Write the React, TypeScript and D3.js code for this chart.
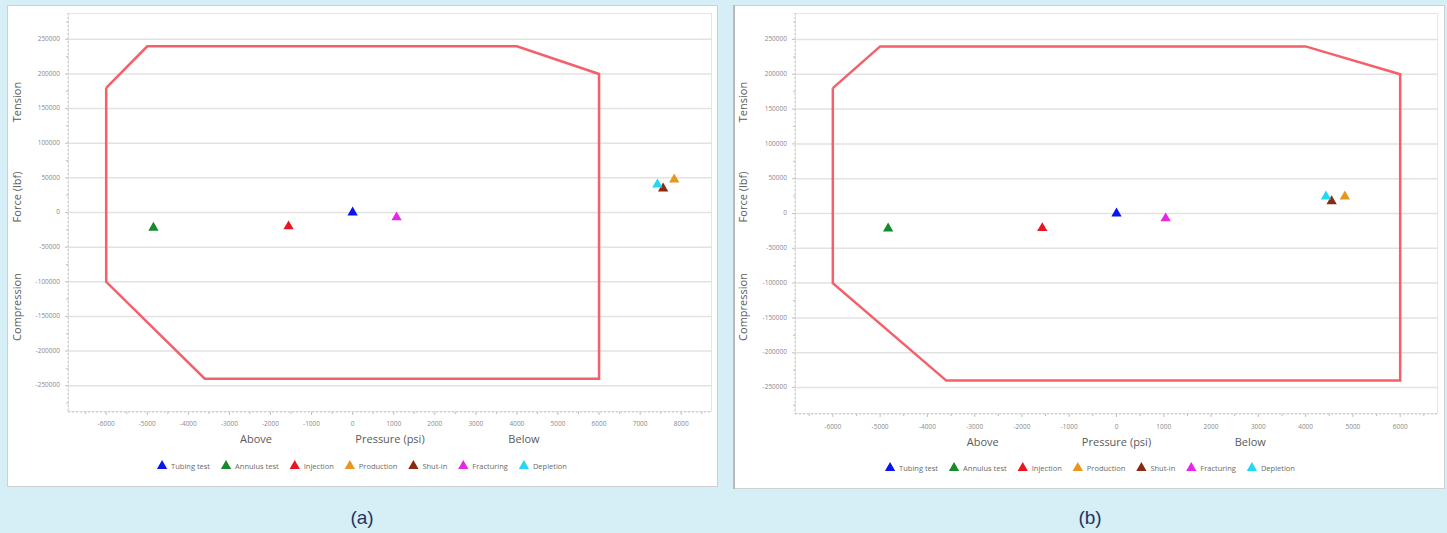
import React, { useEffect, useRef } from "react";
import * as d3 from "d3";

// ---------- data ----------
const categories = ["Tubing test", "Annulus test", "Injection", "Production", "Shut-in", "Fracturing", "Depletion"];
const seriesColors = ["#0a14f0", "#178a2c", "#ec1420", "#e8961e", "#8a2a12", "#e628e6", "#22d8f2"];

const pressureA = [0, -4850, -1560, 7830, 7560, 1070, 7420];
const forceA = [0, -22000, -20000, 47700, 34700, -7000, 40500];

const pressureB = [0, -4830, -1570, 4830, 4550, 1040, 4430];
const forceB = [0, -21500, -21000, 24400, 17700, -7000, 24400];

const envelopePressure = [-6000, -5000, 4000, 6000, 6000, -3600, -6000, -6000];
const envelopeForce = [180000, 240000, 240000, 200000, -240000, -240000, -100000, 180000];

const xTicksA = [-6000, -5000, -4000, -3000, -2000, -1000, 0, 1000, 2000, 3000, 4000, 5000, 6000, 7000, 8000];
const xTicksB = [-6000, -5000, -4000, -3000, -2000, -1000, 0, 1000, 2000, 3000, 4000, 5000, 6000];
const yTicks = [-250000, -200000, -150000, -100000, -50000, 0, 50000, 100000, 150000, 200000, 250000];

const panelLabels = ["(a)", "(b)"];

type Panel = {
  label: string;
  frame: [number, number, number, number]; // x0,y0,x1,y1
  plot: [number, number, number, number];
  xDomain: [number, number];
  yDomain: [number, number];
  xTicks: number[];
  px: number[];
  fy: number[];
  legendCx: number;
  legendY: number;
  titleY: number;
  tickLabelY: number;
};

const panels: Panel[] = [
  {
    label: panelLabels[0],
    frame: [7, 5, 718, 487],
    plot: [68, 13, 712, 412],
    xDomain: [-6930, 8750],
    yDomain: [-288000, 288000],
    xTicks: xTicksA,
    px: pressureA,
    fy: forceA,
    legendCx: 362,
    legendY: 466,
    titleY: 440,
    tickLabelY: 424,
  },
  {
    label: panelLabels[1],
    frame: [733, 5, 1445, 489],
    plot: [795, 13, 1438, 414],
    xDomain: [-6800, 6800],
    yDomain: [-288000, 288000],
    xTicks: xTicksB,
    px: pressureB,
    fy: forceB,
    legendCx: 1090,
    legendY: 468,
    titleY: 443,
    tickLabelY: 427,
  },
];

const FONT = "'Open Sans', 'Liberation Sans', sans-serif";

export default function App() {
  const ref = useRef<SVGSVGElement | null>(null);

  useEffect(() => {
    const svg = d3.select(ref.current);
    svg.selectAll("*").remove();

    svg.append("rect").attr("x", 0).attr("y", 0).attr("width", 1447).attr("height", 533).attr("fill", "#d6eef6");

    panels.forEach((p, pi) => {
      const [fx0, fy0, fx1, fy1] = p.frame;
      const [l, t, r, b] = p.plot;
      const g = svg.append("g");

      g.append("rect")
        .attr("x", fx0 + 0.5).attr("y", fy0 + 0.5)
        .attr("width", fx1 - fx0 - 1).attr("height", fy1 - fy0 - 1)
        .attr("fill", "#ffffff").attr("stroke", "#d0d0d0").attr("stroke-width", 1);
      if (pi === 1) {
        g.append("line").attr("x1", fx0 + 1).attr("x2", fx0 + 1).attr("y1", fy0).attr("y2", fy1)
          .attr("stroke", "#b8b8b8").attr("stroke-width", 2);
      }

      const x = d3.scaleLinear().domain(p.xDomain).range([l, r]);
      const y = d3.scaleLinear().domain(p.yDomain).range([b, t]);

      // plot frame
      g.append("rect").attr("x", l + 0.5).attr("y", t + 0.5).attr("width", r - l - 1).attr("height", b - t - 1)
        .attr("fill", "none").attr("stroke", "#e6e6e6").attr("stroke-width", 1);

      // gridlines
      g.selectAll(".grid").data(yTicks).enter().append("line")
        .attr("x1", l).attr("x2", r)
        .attr("y1", (d) => y(d)).attr("y2", (d) => y(d))
        .attr("stroke", "#e2e2e2").attr("stroke-width", 1.5);

      // axis lines (dotted)
      g.append("line").attr("x1", l).attr("x2", r).attr("y1", b).attr("y2", b)
        .attr("stroke", "#c8c8c8").attr("stroke-width", 1).attr("stroke-dasharray", "2,2");
      g.append("line").attr("x1", l).attr("x2", l).attr("y1", t).attr("y2", b)
        .attr("stroke", "#c8c8c8").attr("stroke-width", 1).attr("stroke-dasharray", "2,2");

      // x ticks
      const minorX = d3.range(Math.ceil(p.xDomain[0] / 500) * 500, p.xDomain[1], 500);
      g.selectAll(".mx").data(minorX).enter().append("line")
        .attr("x1", (d) => x(d)).attr("x2", (d) => x(d))
        .attr("y1", b).attr("y2", (d) => (d % 1000 === 0 ? b + 3 : b + 2))
        .attr("stroke", "#c0c0c0").attr("stroke-width", 1);
      g.selectAll(".xl").data(p.xTicks).enter().append("text")
        .attr("x", (d) => x(d)).attr("y", p.tickLabelY)
        .attr("text-anchor", "middle").attr("dominant-baseline", "middle")
        .attr("font-family", FONT).attr("font-size", 6.5).attr("fill", "#8a8a8a")
        .text((d) => String(d));

      // y ticks
      const minorY = d3.range(-275000, 288000, 25000);
      g.selectAll(".my").data(minorY).enter().append("line")
        .attr("x1", (d) => (d % 50000 === 0 ? l - 3 : l - 2)).attr("x2", l)
        .attr("y1", (d) => y(d)).attr("y2", (d) => y(d))
        .attr("stroke", "#c0c0c0").attr("stroke-width", 1);
      g.selectAll(".yl").data(yTicks).enter().append("text")
        .attr("x", l - 8).attr("y", (d) => y(d))
        .attr("text-anchor", "end").attr("dominant-baseline", "middle")
        .attr("font-family", FONT).attr("font-size", 6.5).attr("fill", "#8a8a8a")
        .text((d) => String(d));

      // envelope
      const line = d3.line<number>()
        .x((_, i) => x(envelopePressure[i]))
        .y((_, i) => y(envelopeForce[i]));
      g.append("path")
        .attr("d", line(envelopePressure))
        .attr("fill", "none").attr("stroke", "#f4606a").attr("stroke-width", 2.5)
        .attr("stroke-linejoin", "miter");

      // points
      const tri = d3.symbol().type(d3.symbolTriangle).size(46);
      categories.forEach((c, i) => {
        g.append("path")
          .attr("d", tri() as string)
          .attr("transform", `translate(${x(p.px[i])},${y(p.fy[i])})`)
          .attr("fill", seriesColors[i]);
      });

      // axis titles
      const xt = (frac: number) => l + (r - l) * frac;
      const titleStyle = (s: any) =>
        s.attr("font-family", FONT).attr("font-size", 11).attr("fill", "#5a5a5a")
          .attr("text-anchor", "middle").attr("dominant-baseline", "middle");
      g.append("text").attr("x", xt(0.292)).attr("y", p.titleY).call(titleStyle).text("Above");
      g.append("text").attr("x", xt(0.5)).attr("y", p.titleY).call(titleStyle).text("Pressure (psi)");
      g.append("text").attr("x", xt(0.708)).attr("y", p.titleY).call(titleStyle).text("Below");

      const ytx = fx0 + 11;
      [["Tension", 102], ["Force (lbf)", 197], ["Compression", 307]].forEach(([txt, cy]) => {
        g.append("text")
          .attr("transform", `translate(${ytx},${cy}) rotate(-90)`)
          .call(titleStyle).text(txt as string);
      });

      // legend
      const lg = g.append("g");
      let cursor = 0;
      categories.forEach((c, i) => {
        lg.append("path").attr("d", tri() as string)
          .attr("transform", `translate(${cursor + 5},${p.legendY})`)
          .attr("fill", seriesColors[i]);
        const tx = lg.append("text").attr("x", cursor + 14).attr("y", p.legendY + 0.5)
          .attr("dominant-baseline", "middle")
          .attr("font-family", FONT).attr("font-size", 7.5).attr("fill", "#6a6a6a").text(c);
        const w = (tx.node() as SVGTextElement).getComputedTextLength();
        cursor += 14 + w + (i < categories.length - 1 ? 11 : 0);
      });
      lg.attr("transform", `translate(${p.legendCx - cursor / 2},0)`);

      // panel label
      svg.append("text").attr("x", p.legendCx).attr("y", 519)
        .attr("text-anchor", "middle").attr("dominant-baseline", "middle")
        .attr("font-family", "'Liberation Sans', Arial, sans-serif").attr("font-size", 19)
        .attr("fill", "#1c3566").text(p.label);
    });
  }, []);

  return (
    <svg
      ref={ref}
      width={1447}
      height={533}
      style={{ position: "absolute", left: 0, top: 0, display: "block" }}
    />
  );
}
